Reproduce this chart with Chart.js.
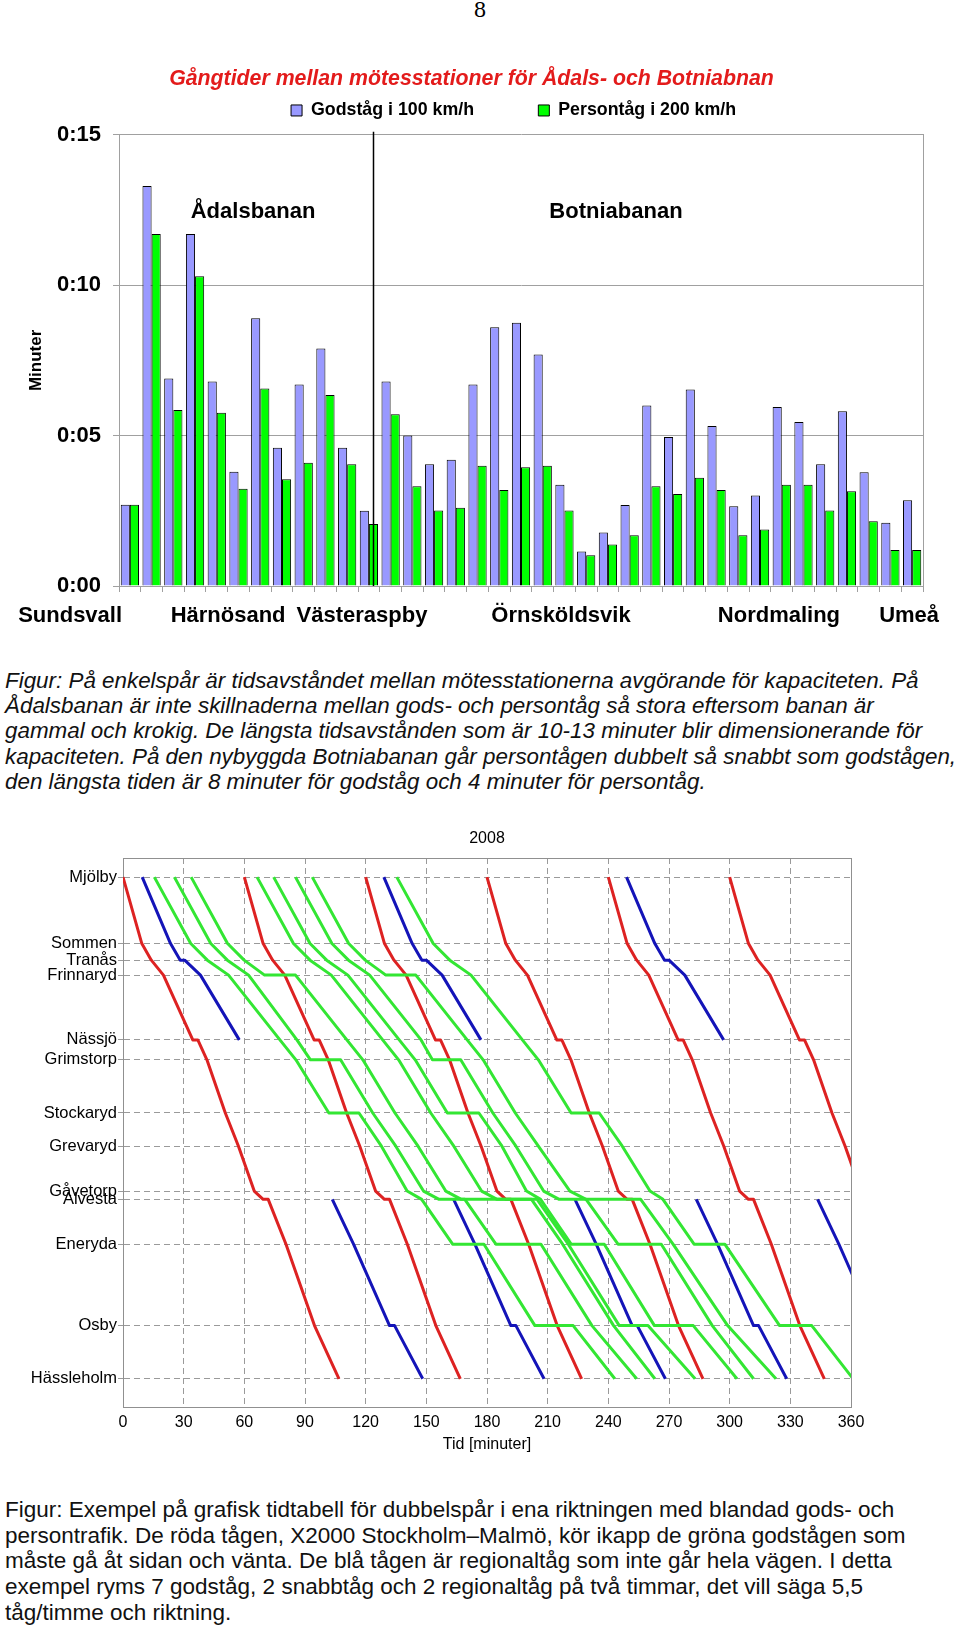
<!DOCTYPE html>
<html>
<head>
<meta charset="utf-8">
<script src="https://cdn.jsdelivr.net/npm/chart.js@4.4.1/dist/chart.umd.min.js"></script>
<style>
  html, body { margin: 0; padding: 0; background: #fff; }
  body { width: 960px; height: 1626px; position: relative; overflow: hidden; font-family: "Liberation Sans", Arial, sans-serif; }
  #pageno { position: absolute; left: 0; width: 960px; top: -4px; text-align: center; font: 24px "Liberation Serif", serif; }
  #c1 { position: absolute; left: 0; top: 60px; }
  #c2 { position: absolute; left: 0; top: 810px; }
  .cap { position: absolute; left: 5px; white-space: nowrap; color: #111; }
  #cap1 { top: 668px; font-size: 22.4px; line-height: 25.2px; font-style: italic; }
  #cap2 { top: 1497px; font-size: 22.5px; line-height: 25.7px; }
</style>
</head>
<body>
<div id="pageno">8</div>
<canvas id="c1" width="960" height="580"></canvas>
<div class="cap" id="cap1">Figur: På enkelspår är tidsavståndet mellan mötesstationerna avgörande för kapaciteten. På<br>Ådalsbanan är inte skillnaderna mellan gods- och persontåg så stora eftersom banan är<br>gammal och krokig. De längsta tidsavstånden som är 10-13 minuter blir dimensionerande för<br>kapaciteten. På den nybyggda Botniabanan går persontågen dubbelt så snabbt som godstågen,<br>den längsta tiden är 8 minuter för godståg och 4 minuter för persontåg.</div>
<canvas id="c2" width="960" height="650"></canvas>
<div class="cap" id="cap2">Figur: Exempel på grafisk tidtabell för dubbelspår i ena riktningen med blandad gods- och<br>persontrafik. De röda tågen, X2000 Stockholm–Malmö, kör ikapp de gröna godstågen som<br>måste gå åt sidan och vänta. De blå tågen är regionaltåg som inte går hela vägen. I detta<br>exempel ryms 7 godståg, 2 snabbtåg och 2 regionaltåg på två timmar, det vill säga 5,5<br>tåg/timme och riktning.</div>
<script>
// ---- chart 1: gångtider (minutes) per section ----
const sections = ['1','2','3','4','5','6','7','8','9','10','11','12','13','14','15','16','17','18','19',
  '20','21','22','23','24','25','26','27','28','29','30','31','32','33','34','35','36','37'];
const godstag = [2.7, 13.3, 6.9, 11.7, 6.8, 3.8, 8.9, 4.6, 6.7, 7.9, 4.6, 2.5, 6.8, 5.0, 4.05, 4.2, 6.7, 8.6, 8.75,
  7.7, 3.37, 1.15, 1.78, 2.69, 6.0, 4.95, 6.53, 5.32, 2.65, 3.01, 5.95, 5.45, 4.05, 5.81, 3.78, 2.1, 2.85];
const persontag = [2.7, 11.7, 5.85, 10.3, 5.76, 3.23, 6.57, 3.55, 4.1, 6.35, 4.05, 2.06, 5.71, 3.32, 2.51, 2.6, 4.0, 3.19, 3.95,
  4.0, 2.51, 1.02, 1.38, 1.69, 3.32, 3.06, 3.6, 3.19, 1.69, 1.88, 3.37, 3.37, 2.51, 3.15, 2.15, 1.2, 1.2];
const minuteTicks = [0, 5, 10, 15];
const stationNames1 = ['Sundsvall', 'Härnösand', 'Västeraspby', 'Örnsköldsvik', 'Nordmaling', 'Umeå'];
const stationAt1 = [-2.75, 4.52, 10.68, 19.84, 29.87, 35.86];
const lineNames = ['Ådalsbanan', 'Botniabanan'];
const lineNameAt = [5.67, 22.37];
const lineNameY = 12.45;
const splitAt = 11.2;

// ---- chart 2: grafisk tidtabell ----
const stations = {M: 'Mjölby', So: 'Sommen', Tr: 'Tranås', F: 'Frinnaryd', N: 'Nässjö', Gr: 'Grimstorp',
  St: 'Stockaryd', Gv: 'Grevaryd', Ga: 'Gåvetorp', A: 'Alvesta', E: 'Eneryda', O: 'Osby', H: 'Hässleholm'};
const stationKm = {M: 0, So: 40, Tr: 50, F: 59, N: 98, Gr: 110, St: 142, Gv: 162, Ga: 189, A: 194, E: 221, O: 270, H: 302};
const timeTicks = [0, 30, 60, 90, 120, 150, 180, 210, 240, 270, 300, 330, 360];

// X2000 (red)
const red = [
  [[0,'M'],[9.3,'So'],[14,'Tr'],[20,'F'],[34.5,'N'],[37,'N'],[41.5,'Gr'],[50.6,'St'],[57.1,'Gv'],[64.9,'Ga'],[69.3,'A'],[71.8,'A'],[80.6,'E'],[94.7,'O'],[106.8,'H']],
  [[60,'M'],[69.3,'So'],[74,'Tr'],[80,'F'],[94.5,'N'],[97,'N'],[101.5,'Gr'],[110.6,'St'],[117.1,'Gv'],[124.9,'Ga'],[129.3,'A'],[131.8,'A'],[140.6,'E'],[154.7,'O'],[166.8,'H']],
  [[120,'M'],[129.3,'So'],[134,'Tr'],[140,'F'],[154.5,'N'],[157,'N'],[161.5,'Gr'],[170.6,'St'],[177.1,'Gv'],[184.9,'Ga'],[189.3,'A'],[191.8,'A'],[200.6,'E'],[214.7,'O'],[226.8,'H']],
  [[180,'M'],[189.3,'So'],[194,'Tr'],[200,'F'],[214.5,'N'],[217,'N'],[221.5,'Gr'],[230.6,'St'],[237.1,'Gv'],[244.9,'Ga'],[249.3,'A'],[251.8,'A'],[260.6,'E'],[274.7,'O'],[286.8,'H']],
  [[240,'M'],[249.3,'So'],[254,'Tr'],[260,'F'],[274.5,'N'],[277,'N'],[281.5,'Gr'],[290.6,'St'],[297.1,'Gv'],[304.9,'Ga'],[309.3,'A'],[311.8,'A'],[320.6,'E'],[334.7,'O'],[346.8,'H']],
  [[300,'M'],[309.3,'So'],[314,'Tr'],[320,'F'],[334.5,'N'],[337,'N'],[341.5,'Gr'],[350.6,'St'],[357.1,'Gv'],[364.9,'Ga']]
];
// regionaltåg (blue)
const blue = [
  [[9.5,'M'],[23.5,'So'],[28.3,'Tr'],[30.5,'Tr'],[38.3,'F'],[57.5,'N']],
  [[129,'M'],[143,'So'],[147.8,'Tr'],[150,'Tr'],[157.8,'F'],[177,'N']],
  [[249,'M'],[263,'So'],[267.8,'Tr'],[270,'Tr'],[277.8,'F'],[297,'N']],
  [[103.5,'A'],[114,'E'],[131.8,'O'],[134.3,'O'],[148.2,'H']],
  [[163.5,'A'],[174,'E'],[191.8,'O'],[194.3,'O'],[208.2,'H']],
  [[223.5,'A'],[234,'E'],[251.8,'O'],[254.3,'O'],[268.2,'H']],
  [[283.5,'A'],[294,'E'],[311.8,'O'],[314.3,'O'],[328.2,'H']],
  [[343.5,'A'],[354,'E'],[371.8,'O']]
];
// godståg (green)
const green = [
  [[15.5,'M'],[33.5,'So'],[41.7,'Tr'],[52.2,'F'],[77.6,'N'],[85.5,'Gr'],[101.8,'St'],[116.7,'St'],[127.8,'Gv'],[140.5,'Ga'],[147.7,'A'],[163,'E'],[178.5,'E'],[203.7,'O'],[222.6,'O'],[243.2,'H']],
  [[25.4,'M'],[43.4,'So'],[51.6,'Tr'],[62.1,'F'],[86,'N'],[92.7,'Gr'],[107.6,'Gr'],[123.5,'St'],[134.9,'Gv'],[148.6,'Ga'],[156.3,'A'],[169,'A'],[184.4,'E'],[206.7,'E'],[231.9,'O'],[254,'H']],
  [[33.7,'M'],[51.7,'So'],[59.9,'Tr'],[70,'F'],[85.3,'F'],[110.7,'N'],[118.6,'Gr'],[134.5,'St'],[145.9,'Gv'],[159.6,'Ga'],[167.3,'A'],[202,'A'],[217.4,'E'],[242.6,'O'],[263,'H']],
  [[66.3,'M'],[84.3,'So'],[92.5,'Tr'],[103,'F'],[128.4,'N'],[136.3,'Gr'],[152.2,'St'],[163.6,'Gv'],[177.3,'Ga'],[185,'A'],[204.8,'A'],[220.2,'E'],[245.4,'O'],[259.6,'O'],[282.9,'H']],
  [[74.5,'M'],[92.5,'So'],[100.7,'Tr'],[111.2,'F'],[136.6,'N'],[144.5,'Gr'],[160.4,'St'],[176,'St'],[187.4,'Gv'],[199.5,'Ga'],[206.5,'A'],[221.6,'E'],[238,'E'],[262.8,'O'],[282,'O'],[303.6,'H']],
  [[85.3,'M'],[103.3,'So'],[111.5,'Tr'],[122,'F'],[147.4,'N'],[153,'Gr'],[167,'Gr'],[182.9,'St'],[194.3,'Gv'],[208,'Ga'],[215.7,'A'],[256,'A'],[272,'E'],[299,'O'],[322.9,'H']],
  [[93.6,'M'],[111.6,'So'],[119.8,'Tr'],[130,'F'],[144.8,'F'],[170.2,'N'],[178.1,'Gr'],[194,'St'],[205.4,'Gv'],[221,'Ga'],[229,'A'],[244.8,'E'],[266.2,'E'],[291.4,'O'],[311.8,'H']],
  [[135.4,'M'],[153.4,'So'],[161.6,'Tr'],[172.1,'F'],[197.5,'N'],[205.4,'Gr'],[221.6,'St'],[235.5,'St'],[246.9,'Gv'],[260.6,'Ga'],[267,'A'],[282.4,'E'],[297.6,'E'],[324.7,'O'],[340.6,'O'],[361,'H']]
];

const FONT = '"Liberation Sans", Arial, sans-serif';
const GRAY = '#a0a0a0';
const nb = '\u00a0';

const bannerPlugin = {
  id: 'banner',
  afterDatasetsDraw(chart) {
    const {ctx, chartArea, scales: {x, y}} = chart;
    ctx.save();
    const lx = Math.round(x.getPixelForValue(splitAt)) + 0.5;
    ctx.strokeStyle = '#000';
    ctx.lineWidth = 1.5;
    ctx.beginPath();
    ctx.moveTo(lx, chartArea.top - 3);
    ctx.lineTo(lx, chartArea.bottom);
    ctx.stroke();
    ctx.font = 'bold 22px ' + FONT;
    ctx.fillStyle = '#000';
    ctx.textAlign = 'center';
    ctx.textBaseline = 'middle';
    lineNames.forEach((n, i) => ctx.fillText(n, x.getPixelForValue(lineNameAt[i]), y.getPixelForValue(lineNameY)));
    // station names under the category axis
    stationNames1.forEach((n, i) => ctx.fillText(n, x.getPixelForValue(stationAt1[i]), chartArea.bottom + 30));
    ctx.restore();
  }
};

new Chart(document.getElementById('c1'), {
  type: 'bar',
  data: {
    labels: sections,
    datasets: [
      {label: 'Godståg i 100 km/h' + nb.repeat(11), data: godstag, backgroundColor: '#9999ff', borderColor: '#000', borderWidth: 1},
      {label: 'Persontåg i 200 km/h' + nb.repeat(3), data: persontag, backgroundColor: '#00ff00', borderColor: '#000', borderWidth: 1}
    ]
  },
  options: {
    responsive: false,
    animation: false,
    categoryPercentage: 0.84,
    barPercentage: 1,
    layout: {padding: {left: 0, right: 17, top: 0, bottom: 8}},
    plugins: {
      title: {
        display: true,
        text: 'Gångtider mellan mötesstationer för Ådals- och Botniabnan',
        color: '#e31b1b',
        font: {family: FONT, size: 21.3, weight: 'bold', style: 'italic'},
        padding: {top: 6, bottom: 0}
      },
      legend: {
        display: true,
        fullSize: false,
        labels: {boxWidth: 11, boxHeight: 11, color: '#000', padding: 10, font: {family: FONT, size: 17.8, weight: 'bold'}}
      },
      tooltip: {enabled: false}
    },
    scales: {
      x: {
        grid: {offset: true, drawOnChartArea: false, tickLength: 6, color: GRAY},
        ticks: {display: false},
        border: {color: GRAY},
        afterFit(s) { s.height = 46; }
      },
      xTop: {
        type: 'linear',
        position: 'top',
        grid: {display: false},
        ticks: {display: false},
        border: {display: false},
        afterFit(s) { s.height = 5.5; }
      },
      y: {
        min: 0,
        max: 15,
        afterBuildTicks(s) { s.ticks = minuteTicks.map(v => ({value: v})); },
        ticks: {color: '#000', padding: 12, font: {family: FONT, size: 22, weight: 'bold'},
          callback: v => '0:' + String(v).padStart(2, '0')},
        grid: {color: GRAY, tickLength: 6},
        border: {color: GRAY},
        title: {display: true, text: 'Minuter', color: '#000', font: {family: FONT, size: 17, weight: 'bold'}, padding: {top: 26, bottom: 0}},
        afterFit(s) { s.width = 119; }
      },
      yRight: {
        type: 'linear',
        position: 'right',
        grid: {display: false},
        ticks: {display: false},
        border: {display: true, color: GRAY},
        afterFit(s) { s.width = 20; }
      }
    }
  },
  plugins: [bannerPlugin]
});

// ---- chart 2 ----
const framePlugin = {
  id: 'frame',
  beforeDatasetsDraw(chart) {
    const {ctx, chartArea: a} = chart;
    ctx.save();
    ctx.strokeStyle = '#909090';
    ctx.lineWidth = 1;
    ctx.strokeRect(Math.round(a.left) + 0.5, Math.round(a.top) + 0.5, Math.round(a.right - a.left), Math.round(a.bottom - a.top));
    ctx.restore();
  }
};

const toPoints = train => train.map(([t, s]) => ({x: t, y: stationKm[s]}));
const trainSets = [];
green.forEach(tr => trainSets.push({data: toPoints(tr), borderColor: '#33e633'}));
blue.forEach(tr => trainSets.push({data: toPoints(tr), borderColor: '#1414b8'}));
red.forEach(tr => trainSets.push({data: toPoints(tr), borderColor: '#dd2222'}));

const stationKeys = Object.keys(stations);
new Chart(document.getElementById('c2'), {
  type: 'line',
  data: {datasets: trainSets},
  options: {
    responsive: false,
    animation: false,
    layout: {padding: {left: 0, right: 109, top: 0, bottom: 3}},
    elements: {point: {radius: 0}, line: {borderWidth: 3, tension: 0, borderJoinStyle: 'round'}},
    plugins: {
      legend: {display: false},
      tooltip: {enabled: false},
      title: {display: true, text: '2008', fullSize: false, color: '#000', font: {family: FONT, size: 16, weight: 'normal'}, padding: {top: 18.5, bottom: 10.3}}
    },
    scales: {
      x: {
        type: 'linear',
        min: 0,
        max: 360,
        afterBuildTicks(s) { s.ticks = timeTicks.map(v => ({value: v})); },
        ticks: {color: '#000', padding: 6, font: {family: FONT, size: 16}},
        grid: {color: '#9a9a9a', drawTicks: false},
        border: {display: true, color: '#909090', dash: [6, 4]},
        title: {display: true, text: 'Tid [minuter]', color: '#000', font: {family: FONT, size: 16}, padding: {top: 0, bottom: 2.4}},
        afterFit(s) { s.height = 50; }
      },
      y: {
        type: 'linear',
        reverse: true,
        min: -11.5,
        max: 319,
        afterBuildTicks(s) { s.ticks = stationKeys.map(k => ({value: stationKm[k]})); },
        ticks: {autoSkip: false, color: '#000', padding: 1, font: {family: FONT, size: 16.5},
          callback: (v, i) => stations[stationKeys[i]]},
        grid: {color: '#9a9a9a', tickLength: 5},
        border: {display: true, color: '#909090', dash: [6, 4]},
        afterFit(s) { s.width = 123; }
      }
    }
  },
  plugins: [framePlugin]
});
</script>
</body>
</html>
